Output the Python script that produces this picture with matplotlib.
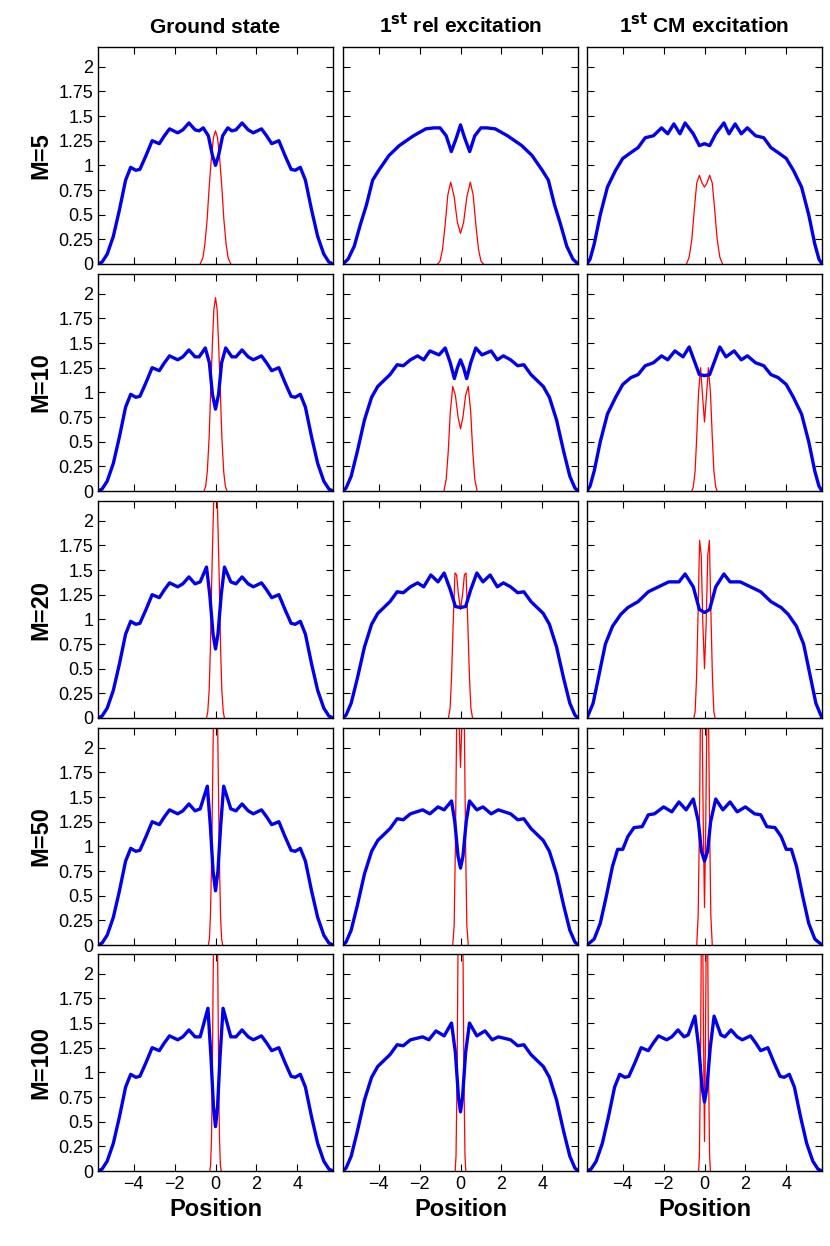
import matplotlib
matplotlib.use("Agg")
import matplotlib.pyplot as plt
import numpy as np

plt.rcParams['font.family'] = ['Liberation Sans', 'DejaVu Sans']

col_titles = ["Ground state", r"1$^{\mathbf{st}}$ rel excitation", r"1$^{\mathbf{st}}$ CM excitation"]
row_labels = ["M=5", "M=10", "M=20", "M=50", "M=100"]

# shared outer parts of the blue densities, half curves (x, y)
outer_gs = [(1.0, 1.36), (1.3, 1.43), (1.6, 1.36), (1.85, 1.33), (2.25, 1.37), (2.5, 1.3), (2.75, 1.22),
            (3.1, 1.25), (3.4, 1.1), (3.7, 0.96), (3.9, 0.95), (4.15, 0.98), (4.4, 0.85), (4.7, 0.55),
            (5.0, 0.28), (5.3, 0.1), (5.55, 0.02), (5.75, 0.0)]
outer_ex = [(1.5, 1.38), (1.8, 1.33), (2.1, 1.37), (2.45, 1.33), (2.8, 1.27), (3.1, 1.28), (3.45, 1.18),
            (3.75, 1.12), (4.05, 1.06), (4.35, 0.95), (4.7, 0.72), (5.05, 0.4), (5.35, 0.15), (5.6, 0.03),
            (5.75, 0.0)]

blue = [
    [  # Ground state
        [(0, 1.0), (0.15, 1.1), (0.35, 1.3), (0.6, 1.38), (0.8, 1.35)] + outer_gs,
        [(0, 0.83), (0.15, 0.98), (0.3, 1.3), (0.5, 1.45), (0.8, 1.36)] + outer_gs,
        [(0, 0.7), (0.12, 0.85), (0.28, 1.25), (0.44, 1.53), (0.75, 1.38)] + outer_gs,
        [(0, 0.55), (0.12, 0.75), (0.25, 1.2), (0.4, 1.61), (0.75, 1.38)] + outer_gs,
        [(0, 0.45), (0.1, 0.65), (0.22, 1.15), (0.37, 1.65), (0.75, 1.36)] + outer_gs,
    ],
    [  # rel excitation
        [(0, 1.41), (0.2, 1.28), (0.45, 1.14), (0.7, 1.3), (1.0, 1.38), (1.3, 1.38), (1.7, 1.37),
         (2.3, 1.3), (3.0, 1.2), (3.5, 1.1), (4.0, 0.95), (4.3, 0.85), (4.6, 0.6), (4.9, 0.4),
         (5.2, 0.18), (5.5, 0.05), (5.75, 0.0)],
        [(0, 1.33), (0.15, 1.25), (0.3, 1.14), (0.5, 1.3), (0.75, 1.45), (1.05, 1.38), (1.5, 1.42)] + outer_ex[1:],
        [(0, 1.12), (0.25, 1.13), (0.5, 1.3), (0.8, 1.47), (1.1, 1.38), (1.45, 1.45)] + outer_ex[1:],
        [(0, 0.78), (0.12, 0.9), (0.28, 1.25), (0.44, 1.46), (0.8, 1.37), (1.1, 1.4), (1.5, 1.33),
         (1.85, 1.37)] + outer_ex[3:],
        [(0, 0.6), (0.1, 0.75), (0.25, 1.2), (0.44, 1.5), (0.8, 1.37), (1.2, 1.42), (1.55, 1.33),
         (1.85, 1.36)] + outer_ex[3:],
    ],
    [  # CM excitation
        [(0, 1.22), (0.25, 1.2), (0.55, 1.32), (0.95, 1.43), (1.2, 1.32), (1.5, 1.42), (1.8, 1.32),
         (2.1, 1.38), (2.5, 1.3), (2.9, 1.28), (3.25, 1.18), (3.6, 1.13), (4.0, 1.07), (4.35, 0.95),
         (4.75, 0.78), (5.1, 0.5), (5.4, 0.2), (5.6, 0.05), (5.75, 0.0)],
        [(0, 1.17), (0.25, 1.18), (0.5, 1.32), (0.75, 1.46), (1.05, 1.36), (1.45, 1.42), (1.8, 1.33),
         (2.1, 1.37), (2.5, 1.3), (2.9, 1.27), (3.25, 1.18), (3.6, 1.15), (4.0, 1.08), (4.35, 0.95),
         (4.75, 0.78), (5.1, 0.5), (5.4, 0.2), (5.6, 0.05), (5.75, 0.0)],
        [(0, 1.07), (0.25, 1.1), (0.55, 1.33), (0.95, 1.46), (1.25, 1.38), (1.75, 1.38), (2.25, 1.33),
         (2.75, 1.28), (3.25, 1.18), (3.75, 1.12), (4.1, 1.05), (4.5, 0.93), (4.85, 0.75), (5.15, 0.45),
         (5.45, 0.15), (5.75, 0.0)],
        [(0, 0.85), (0.15, 0.95), (0.3, 1.25), (0.55, 1.48), (0.9, 1.37), (1.25, 1.45), (1.6, 1.35),
         (2.0, 1.40), (2.45, 1.33), (2.75, 1.32), (3.05, 1.2), (3.45, 1.19), (3.75, 1.1), (4.0, 0.97),
         (4.25, 0.97), (4.5, 0.8), (4.8, 0.5), (5.1, 0.22), (5.4, 0.06), (5.75, 0.0)],
        [(0, 0.7), (0.12, 0.85), (0.28, 1.25), (0.47, 1.57), (0.8, 1.38)] + outer_gs,
    ],
]

red = [
    [
        [(0, 1.35), (0.1, 1.28), (0.2, 1.08), (0.31, 0.78), (0.41, 0.45), (0.52, 0.2), (0.62, 0.06), (0.75, 0.0)],
        [(0, 1.96), (0.08, 1.84), (0.15, 1.5), (0.23, 1.05), (0.31, 0.55), (0.4, 0.2), (0.48, 0.05), (0.56, 0.0)],
        [(0, 2.6), (0.06, 2.4), (0.12, 1.95), (0.19, 1.35), (0.25, 0.7), (0.31, 0.28), (0.38, 0.06), (0.44, 0.0)],
        [(0, 3.2), (0.05, 2.9), (0.1, 2.3), (0.15, 1.5), (0.2, 0.75), (0.25, 0.28), (0.3, 0.06), (0.35, 0.0)],
        [(0, 3.6), (0.04, 3.3), (0.09, 2.5), (0.13, 1.6), (0.16, 0.8), (0.2, 0.3), (0.24, 0.06), (0.28, 0.0)],
    ],
    [
        [(0, 0.31), (0.15, 0.42), (0.31, 0.68), (0.48, 0.83), (0.62, 0.7), (0.75, 0.4), (0.88, 0.15), (1.0, 0.03), (1.12, 0.0)],
        [(0, 0.63), (0.12, 0.75), (0.25, 0.97), (0.38, 1.06), (0.5, 0.8), (0.6, 0.4), (0.7, 0.12), (0.81, 0.0)],
        [(0, 1.1), (0.1, 1.25), (0.19, 1.45), (0.27, 1.47), (0.36, 0.95), (0.44, 0.4), (0.51, 0.1), (0.59, 0.0)],
        [(0, 1.8), (0.06, 2.2), (0.12, 2.6), (0.19, 2.2), (0.25, 1.0), (0.31, 0.2), (0.38, 0.0)],
        [(0, 2.2), (0.04, 2.8), (0.09, 3.1), (0.12, 2.3), (0.17, 0.9), (0.22, 0.15), (0.26, 0.0)],
    ],
    [
        [(0, 0.78), (0.12, 0.82), (0.25, 0.9), (0.38, 0.82), (0.5, 0.55), (0.62, 0.25), (0.75, 0.07), (0.88, 0.0)],
        [(0, 0.7), (0.09, 0.95), (0.19, 1.25), (0.29, 1.0), (0.38, 0.55), (0.46, 0.2), (0.55, 0.04), (0.62, 0.0)],
        [(0, 0.5), (0.08, 0.95), (0.16, 1.65), (0.24, 1.8), (0.31, 1.1), (0.39, 0.4), (0.46, 0.06), (0.52, 0.0)],
        [(0, 0.38), (0.06, 1.2), (0.12, 2.4), (0.19, 2.5), (0.25, 1.2), (0.31, 0.3), (0.38, 0.0)],
        [(0, 0.3), (0.05, 1.4), (0.1, 2.8), (0.15, 2.5), (0.2, 1.0), (0.25, 0.15), (0.29, 0.0)],
    ],
]

xticks = [-4, -2, 0, 2, 4]
yticks = [0, 0.25, 0.5, 0.75, 1, 1.25, 1.5, 1.75, 2]


def full(half):
    h = np.array(half)
    x = np.concatenate([-h[::-1, 0], h[1:, 0]])
    y = np.concatenate([h[::-1, 1], h[1:, 1]])
    return x, y


fig = plt.figure(figsize=(8.3, 12.46), dpi=100)
lefts = [98, 343, 587]
tops = [47, 274, 501, 728, 954]
W, H = 235, 217
for c in range(3):
    for r in range(5):
        ax = fig.add_axes([lefts[c] / 830, 1 - (tops[r] + H) / 1246, W / 830, H / 1246])
        bx, by = full(blue[c][r])
        rx, ry = full(red[c][r])
        ax.plot(rx, ry, color='#ff0000', lw=0.9)
        ax.plot(bx, by, color='#0000ee', lw=2.4, solid_joinstyle='round')
        ax.set_xlim(-5.75, 5.75)
        ax.set_ylim(0, 2.2)
        ax.set_xticks(xticks)
        ax.set_yticks(yticks)
        ax.tick_params(direction='in', top=True, right=True, labelsize=13, length=5)
        ax.set_yticklabels([('%g' % v) for v in yticks] if c == 0 else [])
        if r == 4:
            ax.set_xticklabels(['\u2212' + str(-v) if v < 0 else str(v) for v in xticks])
            ax.set_xlabel('Position', fontsize=17, fontweight='bold')
        else:
            ax.set_xticklabels([])
        if r == 0:
            ax.set_title(col_titles[c], fontsize=15, fontweight='bold', pad=10)
        if c == 0:
            ax.set_ylabel(row_labels[r], fontsize=17, fontweight='bold', labelpad=4)
        for s in ax.spines.values():
            s.set_linewidth(1.0)

fig.savefig('out.png', dpi=100)
